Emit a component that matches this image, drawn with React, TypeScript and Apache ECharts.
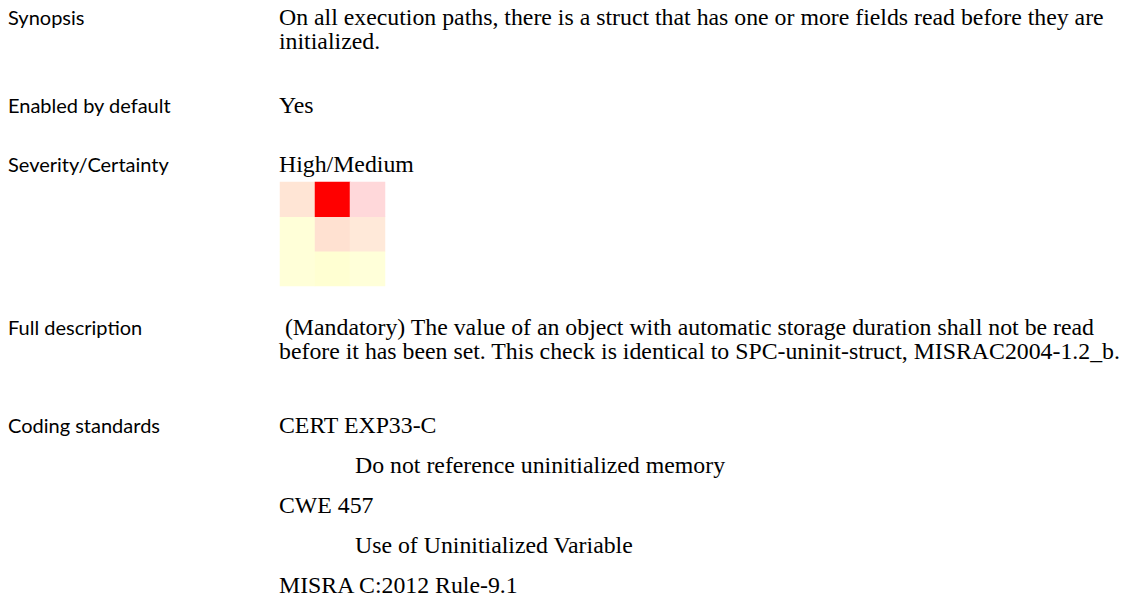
import React, { useEffect, useRef } from 'react';
import * as echarts from 'echarts';

// ---- data ----
const certaintyLevels = ['Low', 'Medium', 'High'];
const severityLevels = ['Low', 'Medium', 'High'];
// rows: severity Low (bottom) -> High (top); columns: certainty Low -> High
const cellColors = [
  ['#FFFFD8', '#FFFFD2', '#FFFFD9'],
  ['#FFFFD8', '#FFE1D1', '#FFE9D9'],
  ['#FFE5D5', '#FF0000', '#FFD8DA'],
];

const fieldLabels = ['Synopsis', 'Enabled by default', 'Severity/Certainty', 'Full description', 'Coding standards'];
const synopsisLines = [
  'On all execution paths, there is a struct that has one or more fields read before they are',
  'initialized.',
];
const enabledText = 'Yes';
const severityText = 'High/Medium';
const descriptionLines = [
  ' (Mandatory) The value of an object with automatic storage duration shall not be read',
  'before it has been set. This check is identical to SPC-uninit-struct, MISRAC2004-1.2_b.',
];
const standardsLines = [
  { text: 'CERT EXP33-C', indent: false },
  { text: 'Do not reference uninitialized memory', indent: true },
  { text: 'CWE 457', indent: false },
  { text: 'Use of Uninitialized Variable', indent: true },
  { text: 'MISRA C:2012 Rule-9.1', indent: false },
];

export default function App() {
  const ref = useRef<HTMLDivElement>(null);
  useEffect(() => {
    document.body.style.margin = '0';
    const chart = echarts.init(ref.current!, null, { renderer: 'svg' });

    const labelX = 8;
    const valueX = 279;
    const indentX = 355;
    const serifSize = 23.8;
    const serif = `${serifSize}px "Liberation Serif"`;
    const sans = '20px Lato';
    const shiftSerif = 0.3375 * serifSize;
    const shiftSans = 7.7;
    const lineGap = 24;

    const labelBaselines = [25, 113, 172, 335, 433];
    const graphics: any[] = [];
    fieldLabels.forEach((t, i) => {
      graphics.push({
        type: 'text', x: labelX, y: labelBaselines[i] - shiftSans,
        style: { text: t, font: sans, fill: '#000', verticalAlign: 'middle', align: 'left' },
      });
    });
    const serifBlock = (lines: string[], x: number, baseline: number) => ({
      type: 'text', x, y: baseline - shiftSerif - lineGap / 2,
      style: {
        text: lines.join('\n'), font: serif, fill: '#000',
        verticalAlign: 'top', align: 'left', lineHeight: lineGap,
      },
    });
    graphics.push(serifBlock(synopsisLines, valueX, labelBaselines[0]));
    graphics.push(serifBlock([enabledText], valueX, labelBaselines[1]));
    graphics.push(serifBlock([severityText], valueX, labelBaselines[2]));
    graphics.push(serifBlock(descriptionLines, valueX, labelBaselines[3]));
    standardsLines.forEach((l, i) =>
      graphics.push(serifBlock([l.text], l.indent ? indentX : valueX, labelBaselines[4] + i * 40))
    );

    const data: any[] = [];
    const pieces: any[] = [];
    cellColors.forEach((row, y) => {
      row.forEach((c, x) => {
        const idx = y * 3 + x;
        data.push([x, y, idx]);
        pieces.push({ value: idx, color: c });
      });
    });

    chart.setOption({
      animation: false,
      grid: { left: 280, top: 182, width: 105, height: 104 },
      xAxis: { type: 'category', data: certaintyLevels, show: false },
      yAxis: { type: 'category', data: severityLevels, show: false },
      visualMap: { type: 'piecewise', show: false, dimension: 2, pieces },
      series: [{ type: 'heatmap', data, silent: true, emphasis: { disabled: true } }],
      graphic: graphics,
    });
    return () => chart.dispose();
  }, []);
  return <div ref={ref} style={{ width: 1123, height: 605, background: '#fff' }} />;
}
